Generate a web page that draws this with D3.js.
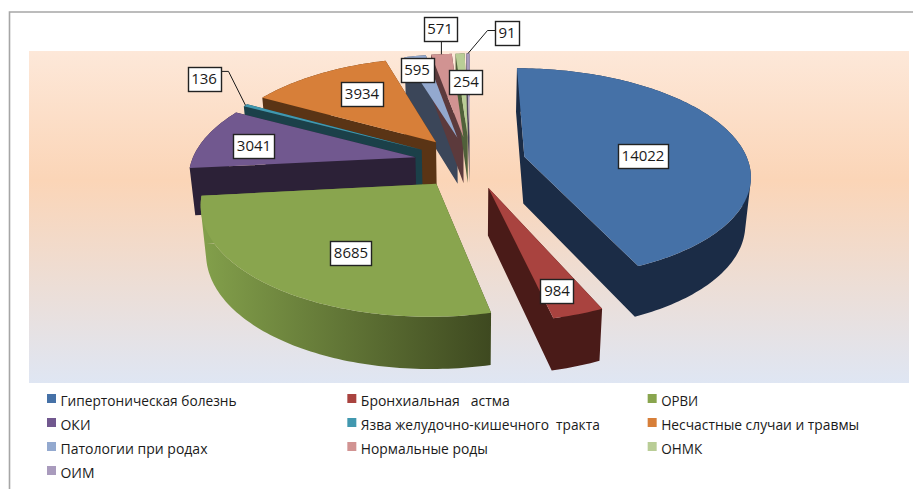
<!DOCTYPE html>
<html>
<head>
<meta charset="utf-8">
<style>
  html, body { margin: 0; padding: 0; background: #fff; }
  svg { display: block; }
  text { font-family: "Open Sans", sans-serif; fill: #1a1a1a; }
</style>
</head>
<body>
<script src="https://cdnjs.cloudflare.com/ajax/libs/d3/7.8.5/d3.min.js"></script>
<script>

  const width = 913,
        height = 489

  const categories = ['Гипертоническая болезнь', 'Бронхиальная   астма', 'ОРВИ',
                      'ОКИ', 'Язва желудочно-кишечного  тракта', 'Несчастные случаи и травмы',
                      'Патологии при родах', 'Нормальные роды', 'ОНМК', 'ОИМ']
  const values = [14022, 984, 8685, 3041, 136, 3934, 595, 571, 254, 91]
  const topColors = ['#4571a7', '#a9433f', '#89a54e', '#71588f', '#4198af',
                     '#d77f39', '#93a9cf', '#d19392', '#b9cd96', '#a99bbd']
  const wallColors = ['#1b2c46', '#4a1b18', 'url(#greenWall)', '#2c2137', '#1b4049',
                      '#5a3415', '#3b4659', '#5c3a3c', '#50603a', '#4a4458']
  const legendWidths = [176, 149, 37, 30, 239, 198, 147, 127, 41, 34]

  // label box position relative to the point 0.62 along the slice, the moved labels go far
  const labelNudge = [[-12, 12], [17, 30], [9, 8], [-29, 1], [-105, -42],
                      [2, -4], [-13, -14], [-9, -54], [3, -1], [39, -50]]
  const leaderSlices = [4, 7, 9]
  // back to front, the thin slices share a layer so their tops stay clear of the walls
  const drawLayers = [[6, 7, 8, 9], [5], [4], [3], [2], [1], [0]]

  const plot = {left: 29, top: 51, right: 909, bottom: 383}
  const pie3d = {cx: 470, cy: 162, rx: 224, ry: 104, persp: 0.159, drop: 47, shrink: 0.98, explode: 0.25}

  const slices = d3.pie().sort(null).value(d => d)(values)

  function project(u, v, bottom) {
    const w = 1 + pie3d.persp * v
    let x = pie3d.cx + pie3d.rx * u / w,
        y = pie3d.cy - pie3d.ry * v / w
    if (bottom) {
      x = pie3d.cx + (x - pie3d.cx) * pie3d.shrink
      y += pie3d.drop / Math.sqrt(w)
    }
    return [x, y]
  }

  // point at radius r from the apex of the (exploded) slice, at angle a
  function slicePlane(slice, r, a) {
    const mid = (slice.startAngle + slice.endAngle) / 2
    return [pie3d.explode * Math.sin(mid) + r * Math.sin(a),
            pie3d.explode * Math.cos(mid) + r * Math.cos(a)]
  }

  function outline(slice) {
    const n = Math.max(2, Math.ceil((slice.endAngle - slice.startAngle) / 0.02))
    const angle = d3.scaleLinear().domain([0, n]).range([slice.startAngle, slice.endAngle])
    return [slicePlane(slice, 0, 0)].concat(d3.range(n + 1).map(i => slicePlane(slice, 1, angle(i))))
  }

  const line = d3.line()

  function wallPath(slice) {
    const pts = outline(slice)
    return pts.map((p, i) => {
      const q = pts[(i + 1) % pts.length]
      let quad = [project(p[0], p[1]), project(q[0], q[1]), project(q[0], q[1], true), project(p[0], p[1], true)]
      if (d3.polygonArea(quad) < 0) quad = quad.reverse()
      return line(quad) + 'Z'
    }).join('')
  }

  const svg = d3.select('body')
    .append('svg')
      .attr('width', width)
      .attr('height', height)

  const defs = svg.append('defs')

  const bgGrad = defs.append('linearGradient')
    .attr('id', 'plotBg')
    .attr('x1', 0).attr('y1', 0).attr('x2', 0).attr('y2', 1)
  bgGrad.append('stop').attr('offset', 0).attr('stop-color', '#fde8d9')
  bgGrad.append('stop').attr('offset', 0.39).attr('stop-color', '#fbd5b7')
  bgGrad.append('stop').attr('offset', 1).attr('stop-color', '#dfe6f3')

  const wallGrad = defs.append('linearGradient')
    .attr('id', 'greenWall')
    .attr('x1', 0).attr('y1', 0).attr('x2', 1).attr('y2', 0)
  wallGrad.append('stop').attr('offset', 0).attr('stop-color', '#83a04b')
  wallGrad.append('stop').attr('offset', 1).attr('stop-color', '#3e4920')

  // frame of the pasted chart
  svg.append('path')
    .attr('d', `M9.5,${height}V12H${width}`)
    .attr('fill', 'none')
    .attr('stroke', '#a6a6a6')
    .attr('stroke-width', 1.6)

  svg.append('rect')
    .attr('x', plot.left)
    .attr('y', plot.top)
    .attr('width', plot.right - plot.left)
    .attr('height', plot.bottom - plot.top)
    .attr('fill', 'url(#plotBg)')

  const pieGroup = svg.append('g').attr('id', 'pie')

  drawLayers.forEach(layer => {
    const g = pieGroup.append('g').attr('class', 'layer')
    layer.forEach(i => {
      g.append('path')
        .attr('d', wallPath(slices[i]))
        .attr('fill', wallColors[i])
    })
    layer.forEach(i => {
      g.append('path')
        .attr('d', line(outline(slices[i]).map(p => project(p[0], p[1]))) + 'Z')
        .attr('fill', topColors[i])
    })
  })

  // leaders first, the boxes sit on top of them
  const labelCenter = slices.map((s, i) => {
    const mid = (s.startAngle + s.endAngle) / 2
    const p = slicePlane(s, 0.62, mid)
    const c = project(p[0], p[1])
    return [c[0] + labelNudge[i][0], c[1] + labelNudge[i][1]]
  })

  const leaders = svg.append('g').attr('id', 'leaders')
  leaderSlices.forEach(i => {
    const s = slices[i]
    const mid = (s.startAngle + s.endAngle) / 2
    const p = slicePlane(s, 1, mid)
    const end = project(p[0], p[1])
    const c = labelCenter[i]
    let pts
    if (c[1] < 40 && Math.abs(c[0] - end[0]) < 5) pts = [[end[0], c[1]], end]
    else if (c[0] < end[0]) pts = [[c[0] + 10, c[1] - 8], [c[0] + 24, c[1] - 8], end]
    else pts = [[c[0] - 10, c[1] - 2], [c[0] - 20, c[1] - 2], end]
    leaders.append('path')
      .attr('d', line(pts))
      .attr('fill', 'none')
      .attr('stroke', '#1a1a1a')
      .attr('stroke-width', 1)
  })

  const labels = svg.append('g').attr('id', 'labels')
    .selectAll('g')
    .data(values)
    .enter()
    .append('g')
      .attr('transform', (d, i) => `translate(${Math.round(labelCenter[i][0])}, ${Math.round(labelCenter[i][1])})`)

  labels.append('text')
    .attr('text-anchor', 'middle')
    .attr('dy', '0.36em')
    .style('font-size', '15px')
    .text(d => d)

  labels.insert('rect', 'text')
    .each(function () {
      const b = d3.select(this.parentNode).select('text').node().getBBox()
      const w = b.width + 7
      d3.select(this)
        .attr('x', Math.round(-w / 2) + 0.5)
        .attr('y', -11.5)
        .attr('width', Math.round(w))
        .attr('height', 24)
    })
    .attr('fill', '#fff')
    .attr('stroke', '#222')
    .attr('stroke-width', 1.4)

  // legend, three columns
  const legendX = d3.scaleBand().domain([0, 1, 2]).range([47, 948]).paddingInner(0)
  const legendY = d3.scaleLinear().domain([0, 3]).range([394, 466])

  const legend = svg.append('g').attr('id', 'legend')
    .selectAll('g')
    .data(categories)
    .enter()
    .append('g')
      .attr('transform', (d, i) => `translate(${legendX(i % 3)}, ${legendY(Math.floor(i / 3))})`)

  legend.append('rect')
    .attr('width', 9)
    .attr('height', 9)
    .attr('fill', (d, i) => topColors[i])

  legend.append('text')
    .attr('x', 13.5)
    .attr('y', 11.5)
    .attr('textLength', (d, i) => legendWidths[i])
    .attr('lengthAdjust', 'spacingAndGlyphs')
    .style('font-size', '14.5px')
    .style('white-space', 'pre')
    .text(d => d)

</script>
</body>
</html>
